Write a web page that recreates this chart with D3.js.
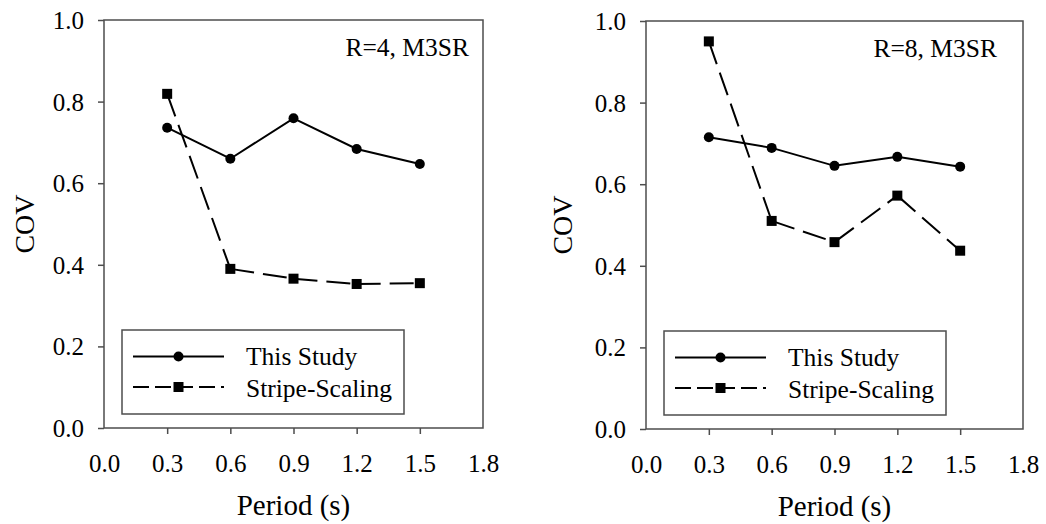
<!DOCTYPE html>
<html>
<head>
<meta charset="utf-8">
<script src="https://cdn.jsdelivr.net/npm/d3@7"></script>
<style>
  html, body { margin: 0; padding: 0; background: #fff; }
  svg { display: block; }
</style>
</head>
<body>
<svg id="chart" width="1046" height="524"></svg>
<script>
// Period values (s) at which COV was computed
const periods = [0.3, 0.6, 0.9, 1.2, 1.5];

// R = 4, M3SR
const r4ThisStudy = [0.736, 0.660, 0.759, 0.684, 0.647];
const r4Stripe    = [0.819, 0.390, 0.366, 0.353, 0.355];

// R = 8, M3SR
const r8ThisStudy = [0.715, 0.689, 0.645, 0.667, 0.643];
const r8Stripe    = [0.950, 0.510, 0.458, 0.572, 0.437];

const xTickValues = [0.0, 0.3, 0.6, 0.9, 1.2, 1.5, 1.8];
const yTickValues = [0.0, 0.2, 0.4, 0.6, 0.8, 1.0];
const seriesNames = ["This Study", "Stripe-Scaling"];
const panelLabels = ["R=4, M3SR", "R=8, M3SR"];

const FONT = "'Liberation Serif'";
const axisColor = "#4d4d4d";
const dash = "24,9";

const panels = [
  { label: panelLabels[0], a: r4ThisStudy, b: r4Stripe, left: 104, top: 20, width: 379, height: 408, labelRight: 469 - 104, titleX: 34 - 104 },
  { label: panelLabels[1], a: r8ThisStudy, b: r8Stripe, left: 646, top: 21, width: 377, height: 408, labelRight: 997 - 646, titleX: 572 - 646 }
];

const svg = d3.select("#chart");

// serif text helper
function label(sel, size) {
  return sel.style("font-family", FONT).style("font-size", size + "px").attr("fill", "#000");
}

panels.forEach(p => {
  const g = svg.append("g").attr("transform", `translate(${p.left},${p.top})`);
  const x = d3.scaleLinear().domain([0, 1.8]).range([0, p.width]);
  const y = d3.scaleLinear().domain([0, 1.0]).range([p.height, 0]);

  // plot frame
  g.append("rect")
    .attr("x", 0).attr("y", 0)
    .attr("width", p.width).attr("height", p.height)
    .attr("fill", "none").attr("stroke", axisColor).attr("stroke-width", 1.5);

  // y axis
  const yAxis = g.append("g")
    .call(d3.axisLeft(y).tickValues(yTickValues).tickSize(6).tickPadding(14).tickFormat(d3.format(".1f")));
  yAxis.attr("font-family", null).attr("font-size", null);
  yAxis.select(".domain").remove();
  yAxis.selectAll(".tick line").attr("stroke", axisColor).attr("stroke-width", 1.5);
  label(yAxis.selectAll(".tick text"), 25).attr("dy", "0.34em");

  // x axis
  const xAxis = g.append("g")
    .attr("transform", `translate(0,${p.height})`)
    .call(d3.axisBottom(x).tickValues(xTickValues).tickSize(6).tickPadding(20).tickFormat(d3.format(".1f")));
  xAxis.attr("font-family", null).attr("font-size", null);
  xAxis.select(".domain").remove();
  xAxis.selectAll(".tick line")
    .attr("stroke", axisColor).attr("stroke-width", 1.5)
    .attr("display", d => (d === 0 || d === 1.8) ? "none" : null);
  label(xAxis.selectAll(".tick text"), 25).attr("dy", "0.71em");

  // axis titles
  label(g.append("text"), 29)
    .attr("x", p.width / 2).attr("y", 495)
    .attr("text-anchor", "middle")
    .text("Period (s)");
  label(g.append("text"), 28)
    .attr("transform", `translate(${p.titleX},${p.height / 2}) rotate(-90)`)
    .attr("text-anchor", "middle")
    .text("COV");

  // panel label
  label(g.append("text"), 25.5)
    .attr("x", p.labelRight).attr("y", 36)
    .attr("text-anchor", "end")
    .text(p.label);

  const ptsA = periods.map((t, i) => [x(t), y(p.a[i])]);
  const ptsB = periods.map((t, i) => [x(t), y(p.b[i])]);

  // This Study: solid line with circles
  g.append("path")
    .attr("d", d3.line()(ptsA))
    .attr("fill", "none").attr("stroke", "#000").attr("stroke-width", 2);
  g.selectAll(".dotA").data(ptsA).enter().append("circle")
    .attr("cx", d => d[0]).attr("cy", d => d[1]).attr("r", 5).attr("fill", "#000");

  // Stripe-Scaling: dashed segments with squares (pattern restarts at each point)
  d3.pairs(ptsB).forEach(seg => {
    g.append("path")
      .attr("d", d3.line()(seg))
      .attr("fill", "none").attr("stroke", "#000").attr("stroke-width", 2)
      .attr("stroke-dasharray", dash);
  });
  g.selectAll(".sqB").data(ptsB).enter().append("rect")
    .attr("x", d => d[0] - 5).attr("y", d => d[1] - 5)
    .attr("width", 10).attr("height", 10).attr("fill", "#000");

  // legend
  const lg = g.append("g").attr("transform", `translate(18,310)`);
  lg.append("rect").attr("x", 0).attr("y", 0).attr("width", 282).attr("height", 84)
    .attr("fill", "#fff").attr("stroke", axisColor).attr("stroke-width", 1.5);
  lg.append("line").attr("x1", 11).attr("x2", 102).attr("y1", 26.5).attr("y2", 26.5)
    .attr("stroke", "#000").attr("stroke-width", 2);
  lg.append("circle").attr("cx", 56.5).attr("cy", 26.5).attr("r", 5).attr("fill", "#000");
  lg.append("line").attr("x1", 11).attr("x2", 102).attr("y1", 57).attr("y2", 57)
    .attr("stroke", "#000").attr("stroke-width", 2).attr("stroke-dasharray", "16,6");
  lg.append("rect").attr("x", 51.5).attr("y", 52).attr("width", 10).attr("height", 10).attr("fill", "#000");
  label(lg.append("text"), 25.5).attr("x", 124).attr("y", 35).text(seriesNames[0]);
  label(lg.append("text"), 25.5).attr("x", 124).attr("y", 66.5).text(seriesNames[1]);
});
</script>
</body>
</html>
